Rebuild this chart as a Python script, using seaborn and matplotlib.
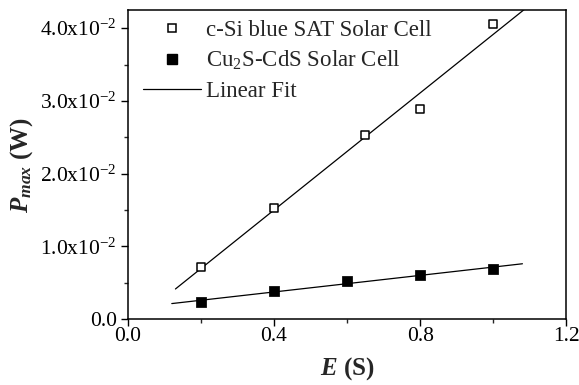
import numpy as np
import pandas as pd
import matplotlib
matplotlib.use("Agg")
import matplotlib.pyplot as plt
import seaborn as sns
from matplotlib.ticker import MultipleLocator, FuncFormatter
from matplotlib.lines import Line2D

# data
si_e = [0.2, 0.4, 0.65, 0.8, 1.0]
si_p = [0.0072, 0.0153, 0.0253, 0.0289, 0.0406]
cu_e = [0.2, 0.4, 0.6, 0.8, 1.0]
cu_p = [0.0023, 0.0039, 0.0052, 0.0061, 0.0069]
si_fit_range = [0.13, 1.1]
cu_fit_range = [0.12, 1.08]

sns.set_style("ticks")
plt.rcParams["font.family"] = ["Liberation Serif", "DejaVu Serif"]
plt.rcParams["mathtext.fontset"] = "custom"
plt.rcParams["mathtext.rm"] = "Liberation Serif"
plt.rcParams["mathtext.it"] = "Liberation Serif:italic"
plt.rcParams["mathtext.bf"] = "Liberation Serif:bold"
plt.rcParams["mathtext.bfit"] = "Liberation Serif:italic:bold"

si = pd.DataFrame({"E": si_e, "P": si_p})
cu = pd.DataFrame({"E": cu_e, "P": cu_p})


def linear_fit(xs, ys, rng):
    xf = np.linspace(rng[0], rng[1], 50)
    return pd.DataFrame({"E": xf, "P": np.polyval(np.polyfit(xs, ys, 1), xf)})


si_fit = linear_fit(si_e, si_p, si_fit_range)
cu_fit = linear_fit(cu_e, cu_p, cu_fit_range)

fig = plt.figure(figsize=(5.79, 3.85), dpi=100)
ax = fig.add_axes([0.221, 0.171, 0.757, 0.803])

sns.lineplot(data=si_fit, x="E", y="P", ax=ax, color="black", lw=0.9)
sns.lineplot(data=cu_fit, x="E", y="P", ax=ax, color="black", lw=0.9)
sns.scatterplot(data=si, x="E", y="P", ax=ax, marker="s", s=38,
                facecolor="white", edgecolor="black", linewidth=1.1, zorder=3)
sns.scatterplot(data=cu, x="E", y="P", ax=ax, marker="s", s=45,
                color="black", edgecolor="black", zorder=3)

ax.set_xlim(0, 1.2)
ax.set_ylim(0, 0.0425)
ax.xaxis.set_major_locator(MultipleLocator(0.4))
ax.xaxis.set_minor_locator(MultipleLocator(0.2))
ax.yaxis.set_major_locator(MultipleLocator(0.01))
ax.yaxis.set_minor_locator(MultipleLocator(0.005))
ax.xaxis.set_major_formatter(FuncFormatter(lambda v, p: f"{v:.1f}"))
ax.yaxis.set_major_formatter(FuncFormatter(
    lambda v, p: "0.0" if abs(v) < 1e-9 else f"{v*100:.1f}x10$^{{-2}}$"))
ax.tick_params(which="major", direction="out", length=5, width=1, labelsize=15.5,
               colors="black", pad=3)
ax.tick_params(axis="x", which="major", pad=1)
ax.tick_params(which="minor", direction="out", length=3, width=1)
for sp in ax.spines.values():
    sp.set_visible(True)
    sp.set_linewidth(1.1)
    sp.set_color("black")

ax.set_xlabel(r"$\mathbfit{E}$ $\mathbf{(S)}$", fontsize=18, labelpad=6)
ax.set_ylabel(r"$\mathbfit{P}_{\mathbfit{max}}$ $\mathbf{(W)}$", fontsize=18, labelpad=4)

handles = [
    Line2D([], [], ls="none", marker="s", ms=6, mfc="white", mec="black", mew=1.1),
    Line2D([], [], ls="none", marker="s", ms=6.8, mfc="black", mec="black"),
    Line2D([], [], color="black", lw=0.9),
]
labels = ["c-Si blue SAT Solar Cell", r"Cu$_2$S-CdS Solar Cell", "Linear Fit"]
ax.legend(handles, labels, loc="upper left", frameon=False, fontsize=16.5,
          handlelength=2.5, handletextpad=0.25, labelspacing=0.35,
          borderaxespad=0, borderpad=0.4, bbox_to_anchor=(0.014, 0.997))

fig.savefig("out.png", dpi=100)
